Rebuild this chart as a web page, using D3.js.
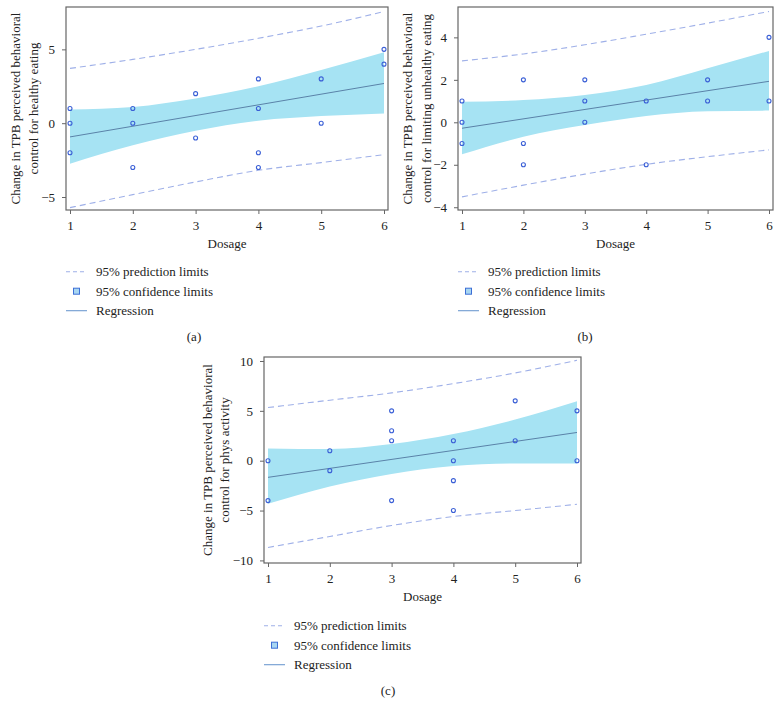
<!DOCTYPE html>
<html><head><meta charset="utf-8">
<script src="https://cdn.jsdelivr.net/npm/d3@7/dist/d3.min.js"></script>
<style>
body{margin:0;background:#fff;}
text{font-family:"Liberation Serif","Times New Roman",serif;fill:#222;}
</style></head>
<body><svg id="c" width="782" height="716"></svg>
<script>
// ---------- DATA ----------
const dosage = [1, 2, 3, 4, 5, 6];

// Panel (a): healthy eating
const ptsA_x = [1, 1, 1, 2, 2, 2, 3, 3, 4, 4, 4, 4, 5, 5, 6, 6];
const ptsA_y = [1, 0, -2, 1, 0, -3, 2, -1, 3, 1, -2, -3, 3, 0, 5, 4];
const predUpA = [3.71, 4.32, 5.0, 5.75, 6.58, 7.56];
const predLoA = [-5.72, -4.84, -3.98, -3.19, -2.67, -2.13];
const confUpA = [0.93, 1.1, 1.67, 2.5, 3.6, 4.8];
const confLoA = [-2.74, -1.5, -0.52, 0.16, 0.48, 0.66];
const regA = [-0.93, 2.69];
const yTicksA = [-5, 0, 5];

// Panel (b): limiting unhealthy eating
const ptsB_x = [1, 1, 1, 2, 2, 2, 3, 3, 3, 4, 4, 5, 5, 6, 6];
const ptsB_y = [1, 0, -1, 2, -1, -2, 2, 1, 0, 1, -2, 2, 1, 4, 1];
const predUpB = [2.89, 3.22, 3.65, 4.15, 4.67, 5.22];
const predLoB = [-3.51, -2.96, -2.44, -1.98, -1.62, -1.30];
const confUpB = [0.97, 1.05, 1.29, 1.76, 2.55, 3.36];
const confLoB = [-1.51, -0.68, -0.13, 0.30, 0.52, 0.55];
const regB = [-0.28, 1.93];
const yTicksB = [-4, -2, 0, 2, 4];

// Panel (c): phys activity
const ptsC_x = [1, 1, 2, 2, 3, 3, 3, 3, 4, 4, 4, 4, 5, 5, 6, 6];
const ptsC_y = [0, -4, 1, -1, 5, 3, 2, -4, 2, 0, -2, -5, 6, 2, 5, 0];
const predUpC = [5.33, 6.07, 6.8, 7.73, 8.8, 10.07];
const predLoC = [-8.7, -7.6, -6.5, -5.6, -5.0, -4.37];
const confUpC = [1.23, 1.17, 1.67, 2.67, 4.13, 5.97];
const confLoC = [-4.33, -2.6, -1.33, -0.53, -0.27, -0.27];
const regC = [-1.67, 2.83];
const yTicksC = [-10, -5, 0, 5, 10];

const xTicks = [1, 2, 3, 4, 5, 6];
const legendLabels = ["95% prediction limits", "95% confidence limits", "Regression"];

// ---------- STYLE ----------
const C_BAND = "#a6e3f3", C_REG = "#5a82a8", C_PRED = "#9fb0e8", C_PT = "#3a5fd6", C_BOX = "#666";

const svg = d3.select("#c");

function panel(o) {
  const g = svg.append("g");
  const x = d3.scaleLinear().domain([1, 6]).range([o.left + 4, o.right - 4]);
  const y = d3.scaleLinear().domain(o.yDom).range([o.bottom, o.top]);

  const band = d3.area().x((d, i) => x(dosage[i])).y0((d, i) => y(o.confLo[i])).y1(d => y(d)).curve(d3.curveMonotoneX);
  g.append("path").attr("d", band(o.confUp)).attr("fill", C_BAND);

  const ln = d3.line().x((d, i) => x(dosage[i])).y(d => y(d)).curve(d3.curveMonotoneX);
  [o.predUp, o.predLo].forEach(arr => {
    g.append("path").attr("d", ln(arr)).attr("fill", "none").attr("stroke", C_PRED)
      .attr("stroke-width", 1.1).attr("stroke-dasharray", "6,4");
  });
  g.append("line").attr("x1", x(1)).attr("x2", x(6)).attr("y1", y(o.reg[0])).attr("y2", y(o.reg[1]))
    .attr("stroke", C_REG).attr("stroke-width", 1);

  g.selectAll("circle.p").data(o.px).enter().append("circle")
    .attr("cx", d => x(d)).attr("cy", (d, i) => y(o.py[i])).attr("r", 2)
    .attr("fill", "none").attr("stroke", C_PT).attr("stroke-width", 1.1);

  g.append("rect").attr("x", o.left).attr("y", o.top).attr("width", o.right - o.left).attr("height", o.bottom - o.top)
    .attr("fill", "none").attr("stroke", C_BOX).attr("stroke-width", 1.2);

  const ax = g.append("g").attr("transform", `translate(0,${o.bottom})`)
    .call(d3.axisBottom(x).tickValues(xTicks).tickSize(4).tickPadding(7).tickFormat(d3.format("d")));
  const ay = g.append("g").attr("transform", `translate(${o.left},0)`)
    .call(d3.axisLeft(y).tickValues(o.yTicks).tickSize(4).tickPadding(7).tickFormat(d3.format("d")));
  [ax, ay].forEach(a => {
    a.select(".domain").remove();
    a.selectAll("line").attr("stroke", C_BOX);
    a.selectAll("text").style("font-family", '"Liberation Serif",serif').attr("font-size", 13).attr("fill", "#222");
  });

  const cx = (o.left + o.right) / 2, cy = (o.top + o.bottom) / 2;
  g.append("text").attr("x", cx).attr("y", o.bottom + 38).attr("text-anchor", "middle").attr("font-size", 13).text("Dosage");
  o.ylab.forEach((t, i) => {
    g.append("text").attr("transform", `translate(${o.ylabX[i]},${cy}) rotate(-90)`)
      .attr("text-anchor", "middle").attr("dy", "0.35em").attr("font-size", 13).text(t);
  });

  // legend
  const lg = g.append("g");
  legendLabels.forEach((t, i) => {
    const yy = o.legY + i * 19.5;
    if (i === 0) lg.append("line").attr("x1", o.left).attr("x2", o.left + 21).attr("y1", yy).attr("y2", yy)
      .attr("stroke", C_PRED).attr("stroke-width", 1.1).attr("stroke-dasharray", "4,3");
    if (i === 1) lg.append("rect").attr("x", o.left + 7.5).attr("y", yy - 3).attr("width", 6).attr("height", 6)
      .attr("fill", "#a8d6f2").attr("stroke", "#3d6fd6").attr("stroke-width", 1);
    if (i === 2) lg.append("line").attr("x1", o.left).attr("x2", o.left + 21).attr("y1", yy).attr("y2", yy)
      .attr("stroke", "#6f9bd0").attr("stroke-width", 1.1);
    lg.append("text").attr("x", o.left + 30).attr("y", yy).attr("dy", "0.35em").attr("font-size", 13).text(t);
  });
  g.append("text").attr("x", o.capX).attr("y", o.capY).attr("dy", "0.35em").attr("text-anchor", "middle")
    .attr("font-size", 13).text(o.cap);
}

panel({left: 66, right: 388, top: 7, bottom: 210, yDom: [-5.88, 7.87], yTicks: yTicksA,
  px: ptsA_x, py: ptsA_y, predUp: predUpA, predLo: predLoA, confUp: confUpA, confLo: confLoA, reg: regA,
  ylab: ["Change in TPB perceived behavioral", "control for healthy eating"], ylabX: [15, 33],
  legY: 271.7, capX: 194, capY: 336.7, cap: "(a)"});
panel({left: 458, right: 773, top: 7, bottom: 210, yDom: [-4.13, 5.43], yTicks: yTicksB,
  px: ptsB_x, py: ptsB_y, predUp: predUpB, predLo: predLoB, confUp: confUpB, confLo: confLoB, reg: regB,
  ylab: ["Change in TPB perceived behavioral", "control for limiting unhealthy eating"], ylabX: [407, 426],
  legY: 271.7, capX: 585, capY: 336.7, cap: "(b)"});
panel({left: 264, right: 581, top: 357, bottom: 563, yDom: [-10.26, 10.4], yTicks: yTicksC,
  px: ptsC_x, py: ptsC_y, predUp: predUpC, predLo: predLoC, confUp: confUpC, confLo: confLoC, reg: regC,
  ylab: ["Change in TPB perceived behavioral", "control for phys activity"], ylabX: [207, 224],
  legY: 625.7, capX: 388, capY: 690, cap: "(c)"});
</script></body></html>
